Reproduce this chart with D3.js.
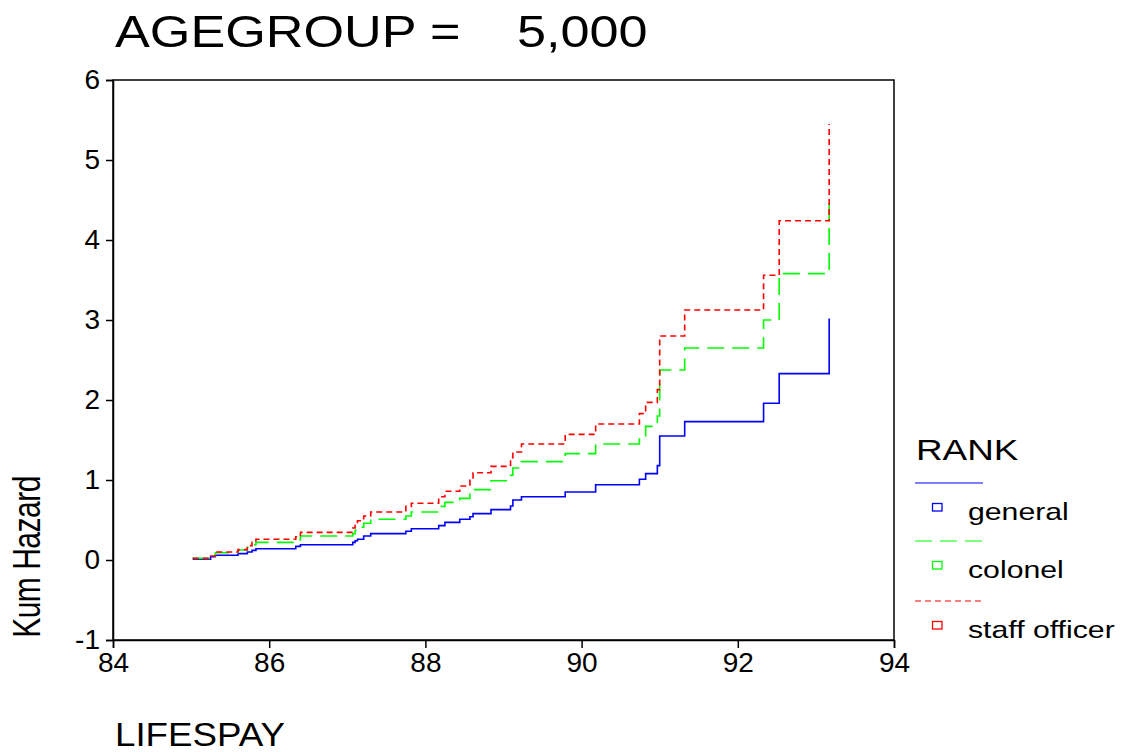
<!DOCTYPE html>
<html>
<head>
<meta charset="utf-8">
<script src="https://cdn.jsdelivr.net/npm/d3@7/dist/d3.min.js"></script>
<style>
  html, body { margin: 0; padding: 0; background: #fff; }
  svg { display: block; font-family: "Liberation Sans", Arial, sans-serif; }
</style>
</head>
<body>
<svg id="chart" width="1130" height="752"></svg>
<script>
// Event times (LIFESPAY) at which the cumulative hazard steps up
const times = [85.02, 85.25, 85.31, 85.60, 85.72, 85.78, 85.83, 86.34, 86.40, 87.07,
               87.10, 87.13, 87.21, 87.30, 87.75, 87.82, 88.17, 88.25, 88.44, 88.57,
               88.61, 88.84, 89.09, 89.12, 89.23, 89.79, 90.18, 90.74, 90.82, 90.97,
               91.00, 91.32, 92.33, 92.53, 93.17];

// Cumulative hazard after each step, per rank
const generalHaz = [0.01, 0.04, 0.06, 0.08, 0.10, 0.12, 0.14, 0.17, 0.19, 0.22,
                    0.24, 0.26, 0.30, 0.33, 0.36, 0.39, 0.43, 0.47, 0.51, 0.54,
                    0.58, 0.63, 0.675, 0.75, 0.79, 0.85, 0.94, 1.01, 1.08, 1.18,
                    1.55, 1.73, 1.96, 2.33, 3.02];
const colonelHaz = [0.02, 0.05, 0.09, 0.125, 0.16, 0.19, 0.22, 0.25, 0.30, 0.33,
                    0.37, 0.41, 0.46, 0.51, 0.55, 0.60, 0.67, 0.72, 0.77, 0.825,
                    0.88, 0.99, 1.06, 1.15, 1.23, 1.33, 1.45, 1.55, 1.67, 1.80,
                    2.375, 2.65, 3.00, 3.58, 4.55];
const staffHaz   = [0.02, 0.05, 0.10, 0.13, 0.18, 0.22, 0.26, 0.29, 0.345, 0.40,
                    0.45, 0.49, 0.55, 0.60, 0.67, 0.71, 0.79, 0.86, 0.925, 1.00,
                    1.09, 1.17, 1.28, 1.35, 1.45, 1.57, 1.70, 1.83, 1.97, 2.13,
                    2.80, 3.125, 3.56, 4.24, 5.45];

const rankNames = ["general", "colonel", "staff officer"];
const xTicks = [84, 86, 88, 90, 92, 94];
const yTicks = [-1, 0, 1, 2, 3, 4, 5, 6];

const series = [
  { name: rankNames[0], values: generalHaz, color: "#0000ff", dash: null },
  { name: rankNames[1], values: colonelHaz, color: "#00ff00", dash: "17,8" },
  { name: rankNames[2], values: staffHaz,   color: "#ff0000", dash: "6,4" }
];

const svg = d3.select("#chart");
const plot = { left: 113, right: 894, top: 80, bottom: 640 };

const x = d3.scaleLinear().domain([84, 94]).range([plot.left, plot.right]);
const y = d3.scaleLinear().domain([-1, 6]).range([plot.bottom, plot.top]);

// Title
svg.append("g").attr("transform", "translate(115,47) scale(1.16,1)")
  .append("text").attr("font-size", 45).attr("fill", "#000").text("AGEGROUP =");
svg.append("g").attr("transform", "translate(517,47) scale(1.16,1)")
  .append("text").attr("font-size", 45).attr("fill", "#000").text("5,000");

// Plot frame
svg.append("rect")
  .attr("x", plot.left).attr("y", plot.top)
  .attr("width", plot.right - plot.left).attr("height", plot.bottom - plot.top)
  .attr("fill", "none").attr("stroke", "#000").attr("stroke-width", 1.5);

// Axes (plain hyphen for negative labels)
const fmt = d => String(d);
const xAxis = d3.axisBottom(x).tickValues(xTicks).tickSize(8).tickPadding(4).tickFormat(fmt);
const yAxis = d3.axisLeft(y).tickValues(yTicks).tickSize(7).tickPadding(6).tickFormat(fmt);

const gx = svg.append("g").attr("transform", `translate(0,${plot.bottom})`).call(xAxis);
const gy = svg.append("g").attr("transform", `translate(${plot.left},0)`).call(yAxis);
[gx, gy].forEach(g => {
  g.select(".domain").attr("stroke", "#000").attr("stroke-width", 1.5);
  g.selectAll(".tick line").attr("stroke", "#000").attr("stroke-width", 1.5);
  g.selectAll(".tick text").attr("font-size", 28).attr("fill", "#000")
    .attr("font-family", "'Liberation Sans', Arial, sans-serif");
});

// Axis titles
svg.append("g").attr("transform", "translate(40,557) scale(1.3,1) rotate(-90)")
  .append("text").attr("text-anchor", "middle").attr("font-size", 30)
  .attr("letter-spacing", -0.5)
  .attr("fill", "#000").text("Kum Hazard");
svg.append("g").attr("transform", "translate(115,746) scale(1.08,1)")
  .append("text").attr("font-size", 34).attr("fill", "#000").text("LIFESPAY");

// Step curves
const line = d3.line()
  .x(d => x(d[0])).y(d => y(d[1]))
  .curve(d3.curveStepAfter);

series.forEach(s => {
  const pts = times.map((t, i) => [t, s.values[i]]);
  svg.append("path")
    .datum(pts)
    .attr("d", line)
    .attr("fill", "none")
    .attr("stroke", s.color)
    .attr("stroke-width", 1.6)
    .attr("stroke-dasharray", s.dash);
});

// Legend
const legend = svg.append("g");
legend.append("g").attr("transform", "translate(916,460) scale(1.27,1)")
  .append("text").attr("font-size", 29).attr("fill", "#000").text("RANK");

const legendRows = [483, 541, 601];
series.forEach((s, i) => {
  const ly = legendRows[i];
  legend.append("line")
    .attr("x1", 915).attr("x2", 983).attr("y1", ly).attr("y2", ly)
    .attr("stroke", s.color).attr("stroke-width", 1.2)
    .attr("stroke-dasharray", s.dash);
  legend.append("rect")
    .attr("x", 932.5).attr("y", ly + 20.5).attr("width", 9.5).attr("height", 7.5)
    .attr("fill", "none").attr("stroke", s.color).attr("stroke-width", 1.3);
  legend.append("g").attr("transform", `translate(968,${ly + 37}) scale(1.26,1)`)
    .append("text").attr("font-size", 24).attr("fill", "#000").text(s.name);
});
</script>
</body>
</html>
